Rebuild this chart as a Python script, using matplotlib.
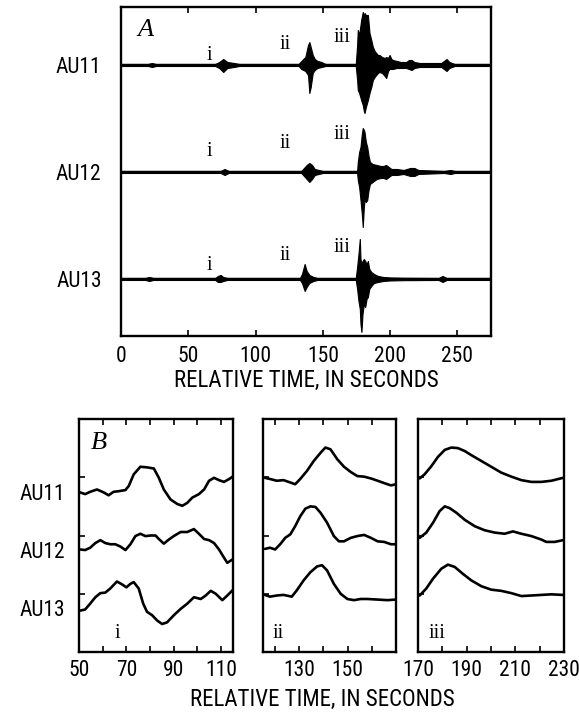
import numpy as np
import matplotlib
matplotlib.use("Agg")
import matplotlib.pyplot as plt
from matplotlib import transforms
from matplotlib import font_manager as fm

# ---- pick a condensed sans if one is installed ----
_names = {f.name for f in fm.fontManager.ttflist}
_cond = {f.name for f in fm.fontManager.ttflist
         if str(f.stretch) in ("condensed", "semi-condensed", "extra-condensed", "75", "87", "62")}
SANS_PROPS = dict(family=['Liberation Sans', 'DejaVu Sans'])
FS = 13.5
FSL = 14.0
for cand in ['Liberation Sans Narrow', 'Arial Narrow', 'Roboto Condensed', 'DejaVu Sans Condensed',
             'Open Sans Condensed', 'Noto Sans Condensed']:
    if cand in _names:
        SANS_PROPS = dict(family=[cand, 'DejaVu Sans'])
        FS, FSL = 15.5, 16.5
        break
else:
    for cand in ['Noto Sans', 'Open Sans', 'Roboto', 'DejaVu Sans']:
        if cand in _cond:
            SANS_PROPS = dict(family=[cand, 'DejaVu Sans'], stretch='condensed')
            FS, FSL = 15.5, 16.5
            break
SERIF = ['Liberation Serif', 'DejaVu Serif']

stations = ["AU11", "AU12", "AU13"]
offsets = [3, 2, 1]

# ---------------- Panel A: envelope of seismograms (time s, up, down amplitude) --------
a11_t = [0, 20, 23, 26, 70, 73, 76, 79, 84, 88, 132, 134, 137, 139, 140, 141, 142.5, 144, 146, 149,
         152, 174.5, 175.5, 176, 177, 178.5, 179.7, 180.5, 181, 182, 183.5, 184.7, 186, 187.2, 188.5,
         189.7, 191, 192.1, 194, 196, 197.1, 198.5, 199.6, 201, 202, 205, 208, 212, 214, 216, 218, 222,
         238, 240, 242, 244, 248, 275]
a11_up = [1, 1, 2, 1, 1, 3, 6, 3, 2, 1, 1, 4, 8, 20, 23, 18, 10, 6, 4, 3,
          1, 1, 20, 35, 30, 45, 53, 48, 52, 50, 50, 32, 25, 18, 14,
          12, 10, 10, 8, 7, 8, 7, 10, 6, 5, 4, 3, 3, 5, 5, 3, 2,
          2, 4, 6, 3, 1, 1]
a11_dn = [1, 1, 2, 1, 1, 3, 7, 3, 2, 1, 1, 4, 6, 10, 28, 22, 8, 5, 3, 2,
          1, 1, 15, 25, 28, 35, 40, 46, 48, 42, 35, 28, 22, 15, 12,
          10, 8, 7, 8, 11, 13, 6, 4, 4, 4, 3, 3, 3, 4, 5, 3, 2,
          2, 4, 6, 3, 1, 1]

a12_t = [0, 74, 77, 80, 134, 136, 138, 140, 142, 144, 147, 150, 175.5, 176, 177, 178, 179, 179.7,
         180.5, 181, 182, 183, 184, 185, 187, 190, 193, 195, 197, 199, 201, 205, 210, 215, 218, 221,
         240, 245, 248, 275]
a12_up = [1, 1, 3, 1, 1, 4, 7, 9, 7, 3, 2, 1, 1, 10, 20, 25, 38, 44,
          42, 40, 30, 25, 16, 10, 8, 7, 6, 6, 7, 5, 3, 3, 2, 4, 4, 2,
          1, 2, 1, 1]
a12_dn = [1, 1, 3, 1, 1, 4, 7, 10, 7, 3, 2, 1, 1, 8, 15, 28, 42, 55,
          35, 28, 30, 28, 18, 12, 10, 7, 6, 6, 7, 5, 3, 3, 2, 4, 4, 2,
          1, 2, 1, 1]

a13_t = [0, 18, 21, 24, 70, 72, 74, 76, 79, 133, 134.5, 136.5, 138, 140, 143, 146, 174.5, 175.5,
         176.5, 177.5, 178, 178.7, 179.5, 180.5, 181.5, 182.5, 183.5, 184.5, 186, 188, 191, 195, 200,
         210, 236, 239, 242, 275]
a13_up = [1, 1, 2, 1, 1, 3, 4, 2, 1, 1, 5, 15, 8, 4, 2, 1, 1, 12,
          25, 40, 20, 15, 18, 20, 18, 15, 18, 10, 7, 5, 3, 2, 1.5,
          1.2, 1, 3, 1, 1]
a13_dn = [1, 1, 2, 1, 1, 3, 3, 2, 1, 1, 4, 12, 8, 4, 2, 1, 1, 10,
          22, 30, 45, 53, 35, 25, 28, 20, 18, 10, 7, 4, 3, 2, 1.5,
          1.2, 1, 3, 1, 1]
AMP_UNIT = 107.0  # amplitude counts per trace spacing

envelopes = [(a11_t, a11_up, a11_dn), (a12_t, a12_up, a12_dn), (a13_t, a13_up, a13_dn)]

# ---------------- Panel B: zoomed, smoothed traces --------------------------------------
b1_t11 = [50.5, 52.6, 54.7, 57.6, 60.4, 62.5, 64.6, 66.7, 69.6, 71.0, 73.1, 75.9, 78.7, 81.6, 83.7,
          85.8, 88.6, 91.5, 93.6, 95.7, 97.8, 100.6, 102.8, 104.9, 107.0, 109.1, 111.2, 113.4, 114.8]
b1_v11 = [-0.26, -0.29, -0.25, -0.21, -0.26, -0.31, -0.25, -0.24, -0.22, -0.15, 0.05, 0.18, 0.17,
          0.15, -0.01, -0.21, -0.38, -0.46, -0.49, -0.44, -0.35, -0.29, -0.21, -0.06, -0.01, -0.05,
          -0.08, -0.03, 0.01]
b1_t12 = [50.5, 52.6, 54.7, 56.9, 59.0, 61.1, 63.2, 65.3, 67.5, 69.6, 71.7, 73.8, 75.9, 78.0, 80.2,
          82.3, 83.7, 85.8, 87.9, 90.0, 92.9, 95.7, 98.5, 100.6, 102.8, 104.9, 107.0, 109.1, 111.2,
          112.6, 114.8]
b1_v12 = [-0.24, -0.25, -0.21, -0.13, -0.08, -0.13, -0.15, -0.15, -0.19, -0.25, -0.15, -0.01, 0.03,
          -0.01, 0.00, 0.00, -0.06, -0.14, -0.07, -0.01, 0.06, 0.06, 0.11, 0.03, -0.06, -0.08, -0.13,
          -0.24, -0.38, -0.47, -0.41]
b1_t13 = [50.5, 52.6, 54.7, 56.9, 59.0, 61.1, 63.2, 66.0, 68.2, 70.0, 71.7, 73.1, 75.2, 77.1, 78.7,
          80.9, 83.0, 85.1, 87.2, 90.0, 92.9, 95.7, 98.5, 101.4, 103.5, 105.6, 107.7, 110.5, 112.6,
          114.8]
b1_v13 = [-0.29, -0.27, -0.17, -0.06, 0.01, 0.02, 0.09, 0.21, 0.16, 0.11, 0.17, 0.20, 0.09, -0.17,
          -0.31, -0.37, -0.46, -0.52, -0.49, -0.37, -0.26, -0.17, -0.06, -0.09, -0.03, 0.05, 0.00,
          -0.11, -0.03, 0.06]

b2_t11 = [115.8, 117.9, 120.7, 123.5, 126.3, 128.3, 130.4, 133.2, 136.0, 138.8, 140.8, 142.9, 145.7,
          148.5, 151.3, 154.0, 156.8, 159.6, 162.4, 165.1, 167.9, 170.0]
b2_v11 = [-0.01, -0.03, -0.06, -0.05, -0.09, -0.12, -0.03, 0.11, 0.28, 0.42, 0.51, 0.48, 0.31, 0.18,
          0.09, 0.02, 0.01, -0.02, -0.06, -0.10, -0.14, -0.12]
b2_t12 = [115.8, 117.9, 120.0, 122.1, 124.2, 126.3, 128.3, 130.4, 132.5, 134.6, 136.7, 138.8, 141.5,
          144.3, 146.4, 148.5, 151.3, 154.0, 156.8, 159.6, 162.4, 165.1, 167.9, 170.0]
b2_v12 = [-0.23, -0.21, -0.24, -0.15, -0.04, 0.02, 0.16, 0.33, 0.46, 0.50, 0.49, 0.39, 0.22, -0.01,
          -0.10, -0.10, -0.04, -0.01, 0.01, -0.04, -0.10, -0.11, -0.15, -0.15]
b2_t13 = [115.8, 117.9, 120.7, 123.5, 126.9, 129.0, 131.8, 134.6, 137.4, 139.4, 141.5, 144.3, 147.1,
          149.9, 152.6, 155.4, 158.2, 162.4, 166.5, 170.0]
b2_v13 = [-0.02, -0.05, -0.03, -0.02, -0.05, 0.06, 0.23, 0.37, 0.47, 0.49, 0.40, 0.17, 0.00, -0.09,
          -0.11, -0.09, -0.09, -0.10, -0.11, -0.10]

b3_t11 = [170.7, 172.7, 175.5, 178.2, 181.0, 183.7, 186.4, 189.2, 191.9, 196.0, 200.1, 204.2, 208.4,
          212.5, 216.6, 220.7, 224.8, 229.6]
b3_v11 = [-0.02, 0.05, 0.19, 0.35, 0.47, 0.51, 0.50, 0.45, 0.38, 0.28, 0.18, 0.08, 0.01, -0.05,
          -0.08, -0.08, -0.06, -0.01]
b3_t12 = [170.7, 173.4, 176.2, 178.9, 181.0, 183.0, 185.8, 189.2, 193.3, 197.4, 201.5, 205.6, 209.0,
          212.5, 216.6, 220.7, 222.7, 226.2, 229.6]
b3_v12 = [-0.04, 0.05, 0.22, 0.42, 0.50, 0.47, 0.39, 0.27, 0.16, 0.09, 0.05, 0.03, 0.07, 0.03,
          -0.01, -0.07, -0.11, -0.11, -0.08]
b3_t13 = [170.7, 173.4, 176.2, 179.6, 182.3, 185.1, 188.5, 191.9, 196.0, 200.1, 204.2, 208.4, 212.5,
          216.6, 220.7, 224.8, 229.6]
b3_v13 = [-0.03, 0.09, 0.26, 0.43, 0.50, 0.46, 0.34, 0.23, 0.13, 0.07, 0.05, 0.01, -0.04, -0.03,
          -0.02, -0.01, -0.02]

b_panels = [
    dict(xlim=(50, 115), ticks=[50, 60, 70, 80, 90, 100, 110], labels=["50", "", "70", "", "90", "", "110"],
         tag="i", tagx=66, traces=[(b1_t11, b1_v11), (b1_t12, b1_v12), (b1_t13, b1_v13)]),
    dict(xlim=(115, 170), ticks=[120, 130, 140, 150, 160], labels=["", "130", "", "150", ""],
         tag="ii", tagx=121.3, traces=[(b2_t11, b2_v11), (b2_t12, b2_v12), (b2_t13, b2_v13)]),
    dict(xlim=(170, 230), ticks=[170, 180, 190, 200, 210, 220, 230],
         labels=["170", "", "190", "", "210", "", "230"], tag="iii", tagx=177.8,
         traces=[(b3_t11, b3_v11), (b3_t12, b3_v12), (b3_t13, b3_v13)]),
]

# phase labels in panel A (time, height)
phase_names = ["i", "ii", "iii"]
phase_t = [65.8, 122.2, 164.6]
phase_y = [[3.09, 3.19, 3.26], [2.19, 2.27, 2.35], [1.13, 1.22, 1.29]]

W, H = 579, 715
fig = plt.figure(figsize=(W / 100, H / 100), dpi=100)


def fr(x0, y0, x1, y1):
    return [x0 / W, 1 - y1 / H, (x1 - x0) / W, (y1 - y0) / H]


def style_spines(ax):
    for s in ax.spines.values():
        s.set_linewidth(1.7)


def sans(txt_objs, size=None):
    for t in txt_objs:
        t.set_fontproperties(fm.FontProperties(size=size or FS, **SANS_PROPS))


# ---------- Panel A ----------
axA = fig.add_axes(fr(121, 7, 491, 336))
for (t, up, dn), off in zip(envelopes, offsets):
    t = np.asarray(t, float)
    up = np.asarray(up, float) / AMP_UNIT
    dn = np.asarray(dn, float) / AMP_UNIT
    axA.fill_between(t, off + up, off - dn, color="black", lw=0.8, edgecolor="black")
    axA.plot(t, np.full_like(t, off), color="black", lw=1.7)
axA.set_xlim(0, 275)
axA.set_ylim(0.467, 3.542)
axA.set_xticks([0, 50, 100, 150, 200, 250])
axA.set_xticklabels(["0", "50", "100", "150", "200", "250"])
sans(axA.get_xticklabels())
axA.tick_params(axis="x", direction="in", top=True, length=4, width=1.2, pad=7)
axA.set_yticks(offsets)
axA.set_yticklabels(stations)
sans(axA.get_yticklabels())
axA.tick_params(axis="y", length=0, pad=14)
style_spines(axA)
axA.text(0.065, 0.93, "A", transform=axA.transAxes, family=SERIF, style="italic", fontsize=19,
         ha="center", va="center")
for i, name in enumerate(phase_names):
    for j in range(3):
        axA.text(phase_t[i], phase_y[j][i], name, family=SERIF, fontsize=14.5, ha="center", va="center")
lab = fig.text(306 / W, 1 - 380 / H, "RELATIVE TIME, IN SECONDS", ha="center", va="center")
sans([lab], FSL)

# ---------- Panel B ----------
b_boxes = [(79, 233), (263, 396), (418, 564)]
for k, (p, (x0, x1)) in enumerate(zip(b_panels, b_boxes)):
    ax = fig.add_axes(fr(x0, 419, x1, 652))
    for (t, v), off in zip(p["traces"], offsets):
        ax.plot(t, off + np.asarray(v), color="black", lw=1.9, solid_capstyle="round",
                solid_joinstyle="round")
    ax.set_xlim(*p["xlim"])
    ax.set_ylim(0, 4)
    ax.set_xticks(p["ticks"])
    ax.set_xticklabels(p["labels"])
    sans(ax.get_xticklabels())
    ax.tick_params(axis="x", direction="in", top=True, length=4, width=1.2, pad=6)
    ax.set_yticks(offsets)
    ax.set_yticklabels([])
    ax.tick_params(axis="y", direction="in", length=4, width=1.2)
    style_spines(ax)
    ax.text(p["tagx"], 0.32, p["tag"], family=SERIF, fontsize=14.5, ha="center", va="center")
    if k == 0:
        ax.text(0.13, 0.895, "B", transform=ax.transAxes, family=SERIF, style="italic", fontsize=19,
                ha="center", va="center")
        trans = transforms.blended_transform_factory(ax.transAxes, ax.transData)
        for name, off in zip(stations, offsets):
            tx = ax.text(-0.09, off - 0.29, name, transform=trans, ha="right", va="center")
            sans([tx])

lab2 = fig.text(322 / W, 1 - 699 / H, "RELATIVE TIME, IN SECONDS", ha="center", va="center")
sans([lab2], FSL)

fig.savefig("out.png", dpi=100)
